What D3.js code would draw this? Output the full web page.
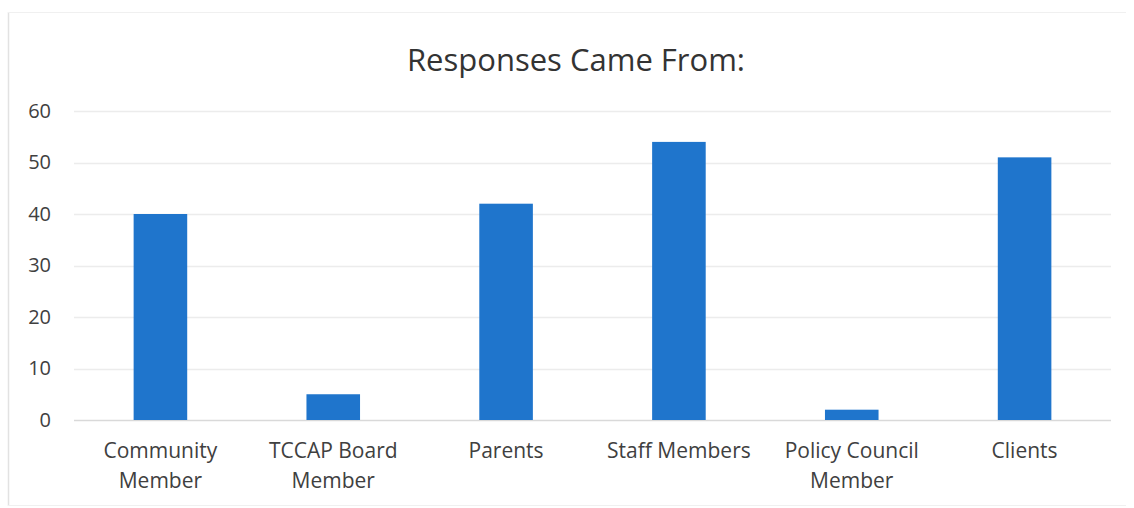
<!DOCTYPE html>
<html>
<head>
<meta charset="utf-8">
<script src="https://cdn.jsdelivr.net/npm/d3@7"></script>
<style>
  html, body { margin: 0; padding: 0; background: #fff; }
  svg { display: block; font-family: "Open Sans", "Noto Sans", sans-serif; }
</style>
</head>
<body>
<svg id="chart" width="1134" height="508"></svg>
<script>
const categories = [["Community", "Member"], ["TCCAP Board", "Member"], ["Parents"], ["Staff Members"], ["Policy Council", "Member"], ["Clients"]];
const values = [40, 5, 42, 54, 2, 51];
const yTicks = [0, 10, 20, 30, 40, 50, 60];
const title = "Responses Came From:";

const svg = d3.select("#chart");
const W = 1134, H = 508;
const margin = { left: 74, right: 23, top: 111, bottom: 88 };

// chart frame
svg.append("line").attr("x1", 8.5).attr("x2", 8.5).attr("y1", 12).attr("y2", 506)
  .attr("stroke", "#e2e2e2").attr("stroke-width", 1.5);
svg.append("line").attr("x1", 8).attr("x2", 1126).attr("y1", 12.5).attr("y2", 12.5)
  .attr("stroke", "#f0f0f0").attr("stroke-width", 1);
svg.append("line").attr("x1", 8).attr("x2", 1126).attr("y1", 505.5).attr("y2", 505.5)
  .attr("stroke", "#f0f0f0").attr("stroke-width", 1);

const keys = categories.map(c => c.join(" "));
const x = d3.scaleBand().domain(keys)
  .range([margin.left, W - margin.right])
  .paddingInner(0.69).paddingOuter(0.345);
const y = d3.scaleLinear().domain([0, 60]).range([H - margin.bottom, margin.top]);

// gridlines
svg.append("g")
  .selectAll("line").data(yTicks).join("line")
  .attr("x1", margin.left).attr("x2", W - margin.right)
  .attr("y1", d => Math.round(y(d)) + 0.5).attr("y2", d => Math.round(y(d)) + 0.5)
  .attr("stroke", d => d === 0 ? "#d9d9d9" : "#ececec").attr("stroke-width", 1.3);

// y axis labels
const yAxis = d3.axisLeft(y).tickValues(yTicks).tickSize(0).tickPadding(0);
const gy = svg.append("g").attr("transform", `translate(51,0)`).call(yAxis);
gy.select(".domain").remove();
gy.selectAll("text").attr("font-size", 20).attr("fill", "#404040")
  .attr("font-family", "Open Sans, sans-serif");

// bars
svg.append("g").selectAll("rect").data(values).join("rect")
  .attr("x", (d, i) => x(keys[i]))
  .attr("width", x.bandwidth())
  .attr("y", d => y(d))
  .attr("height", d => y(0) - y(d))
  .attr("fill", "#1f75cc");

// x labels
const xl = svg.append("g").selectAll("text").data(categories).join("text")
  .attr("text-anchor", "middle")
  .attr("font-size", 21).attr("fill", "#404040")
  .attr("x", (d, i) => x(keys[i]) + x.bandwidth() / 2)
  .attr("y", 458);
xl.selectAll("tspan").data(d => d).join("tspan")
  .attr("x", function() { return d3.select(this.parentNode).attr("x"); })
  .attr("dy", (d, i) => i === 0 ? 0 : 30)
  .text(d => d);

// title
svg.append("text")
  .attr("x", 576).attr("y", 71)
  .attr("text-anchor", "middle")
  .attr("font-size", 31).attr("fill", "#333")
  .text(title);
</script>
</body>
</html>
